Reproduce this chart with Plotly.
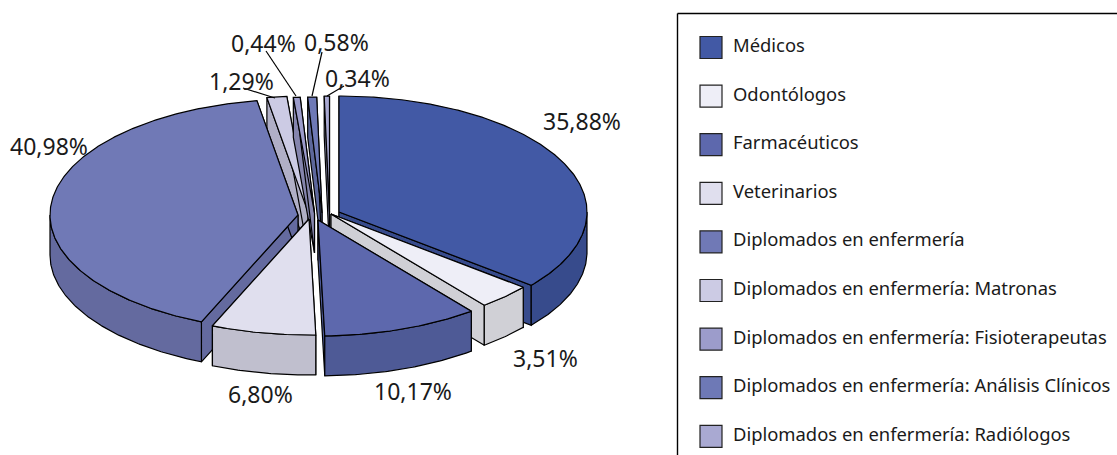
import numpy as np
import plotly.graph_objects as go

categories = ["Médicos", "Odontólogos", "Farmacéuticos", "Veterinarios",
              "Diplomados en enfermería", "Diplomados en enfermería: Matronas",
              "Diplomados en enfermería: Fisioterapeutas",
              "Diplomados en enfermería: Análisis Clínicos",
              "Diplomados en enfermería: Radiólogos"]
values = [35.88, 3.51, 10.17, 6.80, 40.98, 1.29, 0.44, 0.58, 0.34]

top_colors = ["#4259A5", "#EEEEF7", "#5D68AD", "#E0DFEE", "#7079B6", "#CCCBE4", "#9C9CCB", "#6E79B6", "#A9A9D2"]
wall_colors = ["#374B8C", "#D0D0D6", "#4E5A96", "#C0BFCE", "#646A9F", "#B0AFC6", "#8585AD", "#5D679B", "#8F8FB2"]

# pie styling: exploded centre of each slice, radii, thickness
centres = [(339, 212), (331, 214), (318, 220), (309, 219), (298, 215), (308, 212), (314.5, 213), (322, 213), (329.5, 212)]
RX, RY, DEPTH = 248, 116, 40
draw_order = [5, 6, 7, 8, 0, 4, 1, 3, 2]

label_pos = [(582, 121), (545, 358), (413, 391), (260, 394), (49, 146), (241, 81), (263, 43), (336, 42), (357, 78)]
leaders = {5: ((243, 88), (275, 98)), 6: ((266, 51), (296, 96)), 7: ((322, 52), (312, 96)), 8: ((344, 86), (327, 96))}

fig = go.Figure()


def poly(xs, ys, fill):
    fig.add_trace(go.Scatter(x=list(xs), y=list(ys), mode="lines", fill="toself", fillcolor=fill,
                             line=dict(color="black", width=1.2), hoverinfo="skip", showlegend=False))


def arc(c, a0, a1, dy=0.0):
    t = np.radians(np.linspace(a0, a1, max(int(abs(a1 - a0) * 2), 2)))
    return c[0] + RX * np.sin(t), c[1] - RY * np.cos(t) + dy


bounds = np.concatenate([[0], np.cumsum(values)]) / sum(values) * 360
for i in draw_order:
    c, a0, a1 = centres[i], bounds[i], bounds[i + 1]
    for a in (a0, a1):
        x, y = arc(c, a, a + 1e-6)
        ox, oy = x[0], y[0]
        poly([c[0], ox, ox, c[0], c[0]], [c[1], oy, oy + DEPTH, c[1] + DEPTH, c[1]], wall_colors[i])
    lo, hi = max(a0, 90), min(a1, 270)
    if lo < hi:
        xt, yt = arc(c, lo, hi)
        xb, yb = arc(c, hi, lo, DEPTH)
        poly(np.r_[xt, xb, xt[0]], np.r_[yt, yb, yt[0]], wall_colors[i])
    xt, yt = arc(c, a0, a1)
    poly(np.r_[c[0], xt, c[0]], np.r_[c[1], yt, c[1]], top_colors[i])

for k, (p, q) in leaders.items():
    fig.add_shape(type="line", x0=p[0], y0=p[1], x1=q[0], y1=q[1], line=dict(color="black", width=1.2))

font = "Noto Sans"
for v, p in zip(values, label_pos):
    fig.add_annotation(x=p[0], y=p[1], text=f"{v:.2f}%".replace(".", ","), showarrow=False,
                       font=dict(family=font, size=23, color="#1a1a1a"))

# legend panel: open at the bottom and right, cut by the picture edge
fig.add_shape(type="line", x0=677.5, y0=13.5, x1=1117, y1=13.5, line=dict(color="black", width=1.4))
fig.add_shape(type="line", x0=677.5, y0=13.5, x1=677.5, y1=455, line=dict(color="black", width=1.4))
leg_y = [47.5 + 48.6 * i for i in range(len(categories))]
for name, col, y in zip(categories, top_colors, leg_y):
    fig.add_trace(go.Scatter(x=[711], y=[y], mode="markers", hoverinfo="skip", showlegend=False,
                             marker=dict(symbol="square", size=22, color=col, line=dict(color="#222", width=1.2))))
    fig.add_annotation(x=731, y=y - 3, text=name, showarrow=False, xanchor="left",
                       font=dict(family=font, size=18.4, color="#1a1a1a"))

fig.update_layout(width=1117, height=455, margin=dict(l=0, r=0, t=0, b=0), autosize=False,
                  paper_bgcolor="white", plot_bgcolor="white",
                  xaxis=dict(range=[0, 1117], visible=False, fixedrange=True),
                  yaxis=dict(range=[455, 0], visible=False, fixedrange=True))
fig.write_html("out.html", config={"displayModeBar": False},
               post_script="document.body.style.margin='0';document.body.style.overflow='hidden';")
